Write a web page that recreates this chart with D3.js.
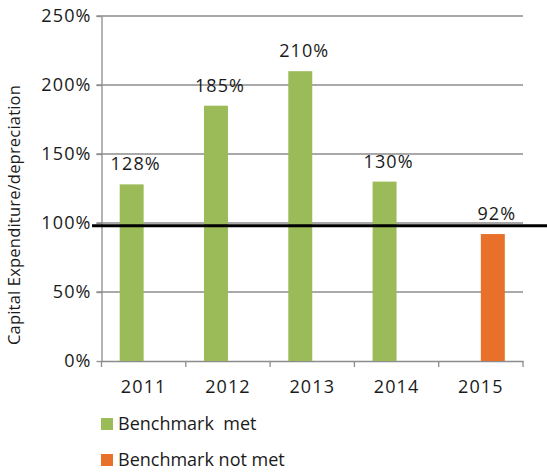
<!DOCTYPE html>
<html>
<head>
<meta charset="utf-8">
<script src="https://cdn.jsdelivr.net/npm/d3@7"></script>
<style>
  body { margin: 0; background: #fff; }
  svg text { font-family: "Open Sans", "Noto Sans", sans-serif; fill: #1a1a1a; }
  .num { letter-spacing: 1.1px; }
</style>
</head>
<body>
<svg id="chart" width="547" height="472"></svg>
<script>
// chart values
var years = ["2011", "2012", "2013", "2014", "2015"];
var metValues = [128, 185, 210, 130, null];
var notMetValues = [null, null, null, null, 92];
var yTicks = [0, 50, 100, 150, 200, 250];
var benchmarkValue = 98; // drawn just under the 100% gridline
var seriesNames = ["Benchmark  met", "Benchmark not met"];
var seriesColors = ["#9bbb59", "#e8702a"];

var svg = d3.select("#chart");
var plotLeft = 101.5, plotRight = 523, plotTop = 16, plotBottom = 361;

var x = d3.scaleBand().domain(years).range([plotLeft, plotRight]).paddingInner(0).paddingOuter(0);
var xSub = d3.scaleBand().domain([0, 1]).range([0, x.bandwidth()]).paddingInner(0).paddingOuter(0.76);
var y = d3.scaleLinear().domain([0, 250]).range([plotBottom, plotTop]);

// gridlines
svg.append("g").selectAll("line").data(yTicks.filter(function(d){ return d > 0; }))
    .enter().append("line")
    .attr("x1", plotLeft - 5).attr("x2", plotRight)
    .attr("y1", function(d){ return y(d); }).attr("y2", function(d){ return y(d); })
    .attr("stroke", "#8c8c8c").attr("stroke-width", 1.3);

// y axis
var yAxis = svg.append("g").attr("transform", "translate(" + plotLeft + ",0)")
    .call(d3.axisLeft(y).tickValues(yTicks).tickSize(5).tickSizeOuter(0).tickPadding(5)
        .tickFormat(function(d){ return d + "%"; }));
yAxis.select(".domain").attr("stroke", "#8c8c8c").attr("stroke-width", 1.3);
yAxis.selectAll(".tick line").attr("stroke", "#8c8c8c").attr("stroke-width", 1.3);
yAxis.selectAll("text").attr("class", "num").attr("font-size", 18).attr("font-family", null).style("fill", "#1a1a1a");

// x axis with ticks on band boundaries
var xAxis = svg.append("g").attr("transform", "translate(0," + plotBottom + ")")
    .call(d3.axisBottom(x).tickSize(0).tickPadding(19));
xAxis.select(".domain").attr("stroke", "#8c8c8c").attr("stroke-width", 1.3);
xAxis.selectAll("text").attr("class", "num").attr("font-size", 18).attr("font-family", null).style("fill", "#1a1a1a");
var boundaries = years.map(function(d){ return x(d); }).concat([plotRight]);
xAxis.selectAll("line.bound").data(boundaries).enter().append("line")
    .attr("class", "bound")
    .attr("x1", function(d){ return d; }).attr("x2", function(d){ return d; })
    .attr("y1", 0).attr("y2", 6)
    .attr("stroke", "#8c8c8c").attr("stroke-width", 1.3);

// bars
var seriesValues = [metValues, notMetValues];
seriesValues.forEach(function(values, s){
    var data = years.map(function(yr, i){ return {year: yr, value: values[i]}; })
        .filter(function(d){ return d.value != null; });
    var g = svg.append("g");
    g.selectAll("rect").data(data).enter().append("rect")
        .attr("x", function(d){ return x(d.year) + xSub(s); })
        .attr("width", xSub.bandwidth())
        .attr("y", function(d){ return y(d.value); })
        .attr("height", function(d){ return y(0) - y(d.value); })
        .attr("fill", seriesColors[s]);
    g.selectAll("text").data(data).enter().append("text")
        .attr("class", "num")
        .attr("x", function(d){ return x(d.year) + xSub(s) + xSub.bandwidth() / 2 + 4; })
        .attr("y", function(d){ return y(d.value) - 14; })
        .attr("text-anchor", "middle")
        .attr("font-size", 18)
        .text(function(d){ return d.value + "%"; });
});

// benchmark line
svg.append("line")
    .attr("x1", 92).attr("x2", 547)
    .attr("y1", y(benchmarkValue)).attr("y2", y(benchmarkValue))
    .attr("stroke", "#000").attr("stroke-width", 3);

// y axis title
svg.append("text")
    .attr("transform", "translate(20,215) rotate(-90)")
    .attr("text-anchor", "middle")
    .attr("font-size", 16.5)
    .style("letter-spacing", "0.2px")
    .text("Capital Expenditure/depreciation");

// legend
var legend = svg.append("g").attr("transform", "translate(101,418)");
seriesNames.forEach(function(name, i){
    var row = legend.append("g").attr("transform", "translate(0," + (i * 36) + ")");
    row.append("rect").attr("width", 12).attr("height", 12).attr("fill", seriesColors[i]);
    row.append("text").attr("x", 17).attr("y", 12).attr("font-size", 18).text(name)
        .style("white-space", "pre");
});
</script>
</body>
</html>
